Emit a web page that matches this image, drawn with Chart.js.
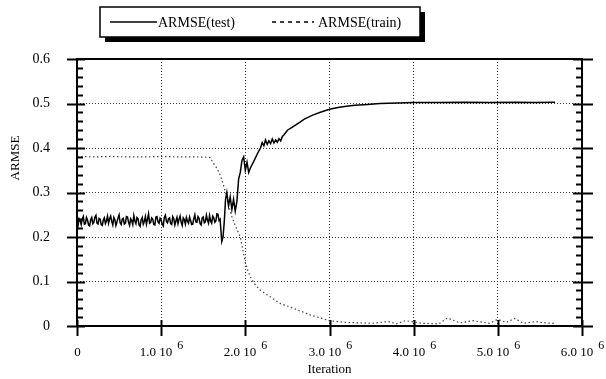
<!DOCTYPE html>
<html>
<head>
<meta charset="utf-8">
<script src="https://cdn.jsdelivr.net/npm/chart.js@4.4.1/dist/chart.umd.min.js"></script>
<style>
  html, body { margin: 0; padding: 0; background: #fff; }
</style>
</head>
<body>
<canvas id="myChart" width="606" height="379"></canvas>
<script>
(() => {
    'use strict'

    // iterations are in units of 10^6
    const iterTest = [
        0, 0.0125, 0.025, 0.0375, 0.05, 0.0625, 0.075, 0.0875, 0.1, 0.1125, 0.125, 0.1375, 0.15, 0.1625, 0.175, 0.1875,
        0.2, 0.2125, 0.225, 0.2375, 0.25, 0.2625, 0.275, 0.2875, 0.3, 0.3125, 0.325, 0.3375, 0.35, 0.3625, 0.375, 0.3875,
        0.4, 0.4125, 0.425, 0.4375, 0.45, 0.4625, 0.475, 0.4875, 0.5, 0.5125, 0.525, 0.5375, 0.55, 0.5625, 0.575, 0.5875,
        0.6, 0.6125, 0.625, 0.6375, 0.65, 0.6625, 0.675, 0.6875, 0.7, 0.7125, 0.725, 0.7375, 0.75, 0.7625, 0.775, 0.7875,
        0.8, 0.8125, 0.825, 0.8375, 0.85, 0.8625, 0.875, 0.8875, 0.9, 0.9125, 0.925, 0.9375, 0.95, 0.9625, 0.975, 0.9875,
        1.0, 1.0125, 1.025, 1.0375, 1.05, 1.0625, 1.075, 1.0875, 1.1, 1.1125, 1.125, 1.1375, 1.15, 1.1625, 1.175, 1.1875,
        1.2, 1.2125, 1.225, 1.2375, 1.25, 1.2625, 1.275, 1.2875, 1.3, 1.3125, 1.325, 1.3375, 1.35, 1.3625, 1.375, 1.3875,
        1.4, 1.4125, 1.425, 1.4375, 1.45, 1.4625, 1.475, 1.4875, 1.5, 1.5125, 1.525, 1.5375, 1.55, 1.5625, 1.575, 1.5875,
        1.6, 1.6125, 1.625, 1.6375, 1.65, 1.6625, 1.675, 1.6875, 1.7,
        1.72, 1.735, 1.75, 1.765, 1.78, 1.80, 1.82, 1.84, 1.86, 1.88, 1.90, 1.92, 1.94, 1.96, 1.98,
        2.00, 2.02, 2.04, 2.06, 2.10, 2.14, 2.18, 2.20, 2.22, 2.24, 2.26, 2.28, 2.30, 2.32, 2.34,
        2.36, 2.38, 2.40, 2.42, 2.44, 2.46, 2.50, 2.55, 2.60, 2.65, 2.70, 2.80, 2.90, 3.00, 3.10,
        3.20, 3.30, 3.45, 3.60, 3.80, 4.00, 4.30, 4.60, 4.90, 5.20, 5.45, 5.68
    ];
    const armseTest = [
        0.232, 0.226, 0.241, 0.237, 0.228, 0.240, 0.246, 0.229, 0.230, 0.244, 0.238, 0.227, 0.225, 0.239, 0.244, 0.230,
        0.233, 0.245, 0.249, 0.231, 0.229, 0.242, 0.240, 0.228, 0.226, 0.238, 0.243, 0.230, 0.236, 0.247, 0.231, 0.241,
        0.247, 0.235, 0.227, 0.244, 0.239, 0.226, 0.234, 0.243, 0.250, 0.232, 0.228, 0.240, 0.242, 0.229, 0.231, 0.246,
        0.245, 0.233, 0.226, 0.241, 0.237, 0.228, 0.248, 0.236, 0.230, 0.244, 0.241, 0.227, 0.224, 0.239, 0.244, 0.229,
        0.235, 0.246, 0.229, 0.240, 0.252, 0.231, 0.233, 0.243, 0.240, 0.228, 0.227, 0.245, 0.246, 0.234, 0.231, 0.242,
        0.238, 0.229, 0.225, 0.244, 0.249, 0.235, 0.232, 0.241, 0.243, 0.230, 0.228, 0.246, 0.241, 0.227, 0.236, 0.244,
        0.230, 0.240, 0.247, 0.233, 0.226, 0.243, 0.239, 0.229, 0.244, 0.236, 0.231, 0.245, 0.237, 0.228, 0.229, 0.241,
        0.250, 0.234, 0.233, 0.246, 0.242, 0.230, 0.227, 0.243, 0.245, 0.232, 0.234, 0.249, 0.238, 0.231, 0.248, 0.236,
        0.231, 0.247, 0.243, 0.233, 0.236, 0.252, 0.251, 0.237, 0.240,
        0.190, 0.200, 0.235, 0.285, 0.300, 0.270, 0.290, 0.262, 0.285, 0.258, 0.280, 0.330, 0.345, 0.372, 0.380,
        0.350, 0.368, 0.345, 0.355, 0.370, 0.386, 0.400, 0.412, 0.405, 0.418, 0.408, 0.416, 0.410, 0.420, 0.411,
        0.418, 0.413, 0.421, 0.416, 0.426, 0.430, 0.440, 0.446, 0.452, 0.458, 0.465, 0.474, 0.481, 0.487, 0.491,
        0.494, 0.496, 0.498, 0.500, 0.501, 0.502, 0.502, 0.503, 0.502, 0.503, 0.502, 0.503
    ];

    const iterTrain = [
        0, 0.2, 0.4, 0.6, 0.8, 1.0, 1.2, 1.4, 1.58, 1.62, 1.66, 1.70, 1.74, 1.77, 1.80, 1.84,
        1.88, 1.94, 2.00, 2.03, 2.06, 2.12, 2.18, 2.30, 2.42, 2.54, 2.65, 2.77, 2.89, 3.00, 3.20, 3.50,
        3.70, 3.80, 3.90, 4.10, 4.30, 4.40, 4.55, 4.70, 4.90, 5.00, 5.10, 5.20, 5.30, 5.45, 5.55, 5.68
    ];
    const armseTrain = [
        0.381, 0.380, 0.381, 0.380, 0.380, 0.381, 0.380, 0.380, 0.379, 0.366, 0.355, 0.340, 0.317, 0.296, 0.272, 0.246,
        0.226, 0.200, 0.143, 0.125, 0.110, 0.092, 0.080, 0.065, 0.050, 0.042, 0.034, 0.025, 0.018, 0.012, 0.008, 0.006,
        0.010, 0.005, 0.012, 0.006, 0.005, 0.018, 0.007, 0.012, 0.006, 0.015, 0.008, 0.017, 0.006, 0.010, 0.007, 0.006
    ];

    // axis ticks
    const xTickValues = [0, 1, 2, 3, 4, 5, 6];
    const xTickLabels = ['0', '1.0 10', '2.0 10', '3.0 10', '4.0 10', '5.0 10', '6.0 10'];
    const xTickExp = '6';
    const yTickLabels = ['0', '0.1', '0.2', '0.3', '0.4', '0.5', '0.6'];

    const serif = "'Liberation Serif', 'Times New Roman', serif";

    // frame, tick marks, exponent labels, y title and boxed legend
    const paperPlugin = {
        id: 'paper',
        afterDraw(chart) {
            const { ctx, chartArea: a, scales: { x, y } } = chart;
            ctx.save();
            ctx.strokeStyle = '#000';
            ctx.fillStyle = '#000';

            // frame
            ctx.lineWidth = 2;
            ctx.strokeRect(a.left, a.top, a.right - a.left, a.bottom - a.top);

            // y ticks, both sides
            for (let i = 0; i <= 30; i++) {
                const py = Math.round(y.getPixelForValue(i * 0.02)) + 0.5;
                const major = i % 5 === 0;
                ctx.beginPath();
                if (major) {
                    ctx.moveTo(a.left - 10, py); ctx.lineTo(a.left + 8, py);
                    ctx.moveTo(a.right - 9, py); ctx.lineTo(a.right + 11, py);
                } else {
                    ctx.moveTo(a.left, py); ctx.lineTo(a.left + 6, py);
                    ctx.moveTo(a.right - 6, py); ctx.lineTo(a.right, py);
                }
                ctx.stroke();
            }

            // x ticks + labels with exponent
            ctx.textBaseline = 'alphabetic';
            xTickValues.forEach((v, i) => {
                const px = Math.round(x.getPixelForValue(v)) + 0.5;
                ctx.beginPath();
                ctx.moveTo(px, a.bottom - 6);
                ctx.lineTo(px, a.bottom + 10);
                ctx.stroke();

                const base = xTickLabels[i];
                ctx.font = '13px ' + serif;
                if (v === 0) {
                    ctx.textAlign = 'center';
                    ctx.fillText(base, px, 356);
                    return;
                }
                ctx.textAlign = 'left';
                const wb = ctx.measureText(base).width;
                ctx.font = '12px ' + serif;
                const ws = ctx.measureText(xTickExp).width;
                const start = px - (wb + 5 + ws) / 2;
                ctx.font = '13px ' + serif;
                ctx.fillText(base, start, 356);
                ctx.font = '12px ' + serif;
                ctx.fillText(xTickExp, start + wb + 5, 349);
            });

            // y title
            ctx.save();
            ctx.translate(16, 158);
            ctx.rotate(-Math.PI / 2);
            ctx.font = '13px ' + serif;
            ctx.textAlign = 'center';
            ctx.textBaseline = 'middle';
            ctx.fillText('ARMSE', 0, 0);
            ctx.restore();

            // legend box with drop shadow
            const lx = 100, ly = 7, lw = 320, lh = 30;
            ctx.fillRect(lx + 5, ly + 5, lw, lh);
            ctx.fillStyle = '#fff';
            ctx.fillRect(lx, ly, lw, lh);
            ctx.lineWidth = 1.5;
            ctx.strokeRect(lx, ly, lw, lh);
            ctx.fillStyle = '#000';

            const my = ly + lh / 2;
            ctx.lineWidth = 1.3;
            ctx.beginPath();
            ctx.moveTo(110, my); ctx.lineTo(157, my);
            ctx.stroke();
            ctx.setLineDash([4, 4]);
            ctx.lineWidth = 1.5;
            ctx.beginPath();
            ctx.moveTo(272, my); ctx.lineTo(314, my);
            ctx.stroke();
            ctx.setLineDash([]);

            ctx.font = '14px ' + serif;
            ctx.textAlign = 'left';
            ctx.textBaseline = 'middle';
            ctx.fillText('ARMSE(test)', 158, my + 1);
            ctx.fillText('ARMSE(train)', 318, my + 1);
            ctx.restore();
        }
    };

    const ctx = document.getElementById('myChart');

    new Chart(ctx, {
        type: 'line',
        data: {
            datasets: [{
                label: 'ARMSE(test)',
                data: iterTest.map((v, i) => ({ x: v, y: armseTest[i] })),
                borderColor: '#000',
                borderWidth: 1.5,
                pointRadius: 0,
                tension: 0,
                fill: false
            }, {
                label: 'ARMSE(train)',
                data: iterTrain.map((v, i) => ({ x: v, y: armseTrain[i] })),
                borderColor: '#444',
                borderWidth: 1.2,
                borderDash: [1.5, 2.5],
                pointRadius: 0,
                tension: 0,
                fill: false
            }]
        },
        options: {
            responsive: false,
            animation: false,
            layout: {
                padding: { top: 59, right: 24, bottom: 0, left: 0 }
            },
            plugins: {
                legend: { display: false },
                tooltip: { enabled: false }
            },
            scales: {
                x: {
                    type: 'linear',
                    min: 0,
                    max: 6,
                    ticks: { display: false, stepSize: 1 },
                    grid: {
                        color: '#333',
                        lineWidth: 1,
                        drawTicks: false
                    },
                    border: { display: false, dash: [1, 2] },
                    title: {
                        display: true,
                        text: 'Iteration',
                        color: '#000',
                        font: { family: serif, size: 13 },
                        padding: { top: 0, bottom: 2 }
                    },
                    afterFit(scale) { scale.height = 53; }
                },
                y: {
                    min: 0,
                    max: 0.6,
                    ticks: {
                        stepSize: 0.1,
                        color: '#000',
                        padding: 27,
                        font: { family: serif, size: 14 },
                        callback: (v) => yTickLabels[Math.round(v * 10)]
                    },
                    grid: {
                        color: '#333',
                        lineWidth: 1,
                        drawTicks: false
                    },
                    border: { display: false, dash: [1, 2] },
                    afterFit(scale) { scale.width = 77; }
                }
            }
        },
        plugins: [paperPlugin]
    });
})()
</script>
</body>
</html>
